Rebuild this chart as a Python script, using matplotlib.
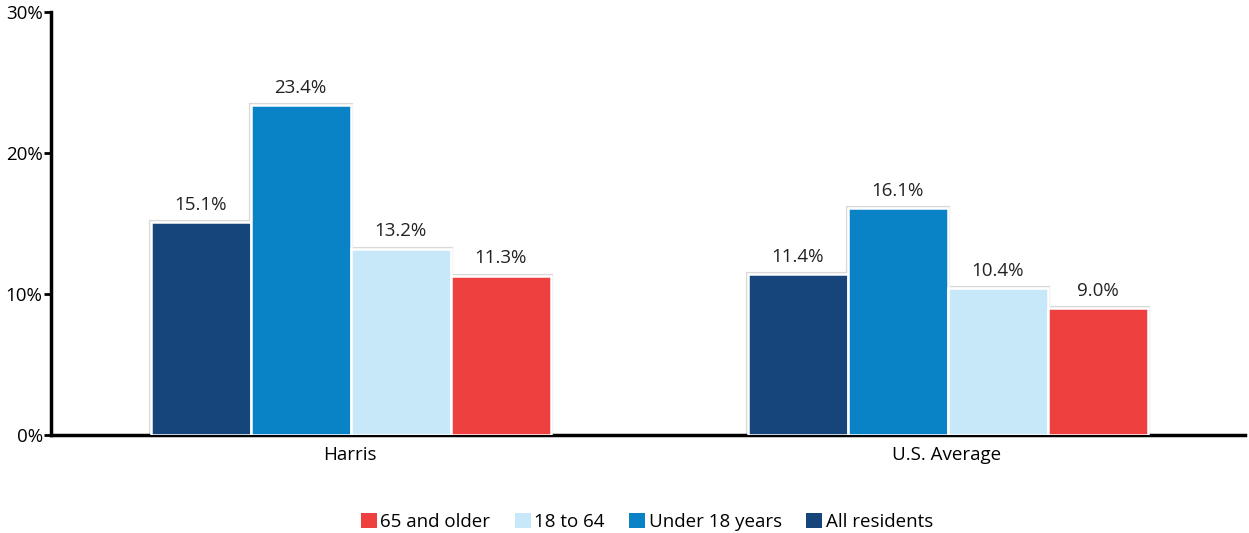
import numpy as np
import matplotlib.pyplot as plt
from matplotlib.patches import Patch

plt.rcParams['font.family'] = ['Open Sans', 'DejaVu Sans']

places = ['Harris', 'U.S. Average']
series = ['All residents', 'Under 18 years', '18 to 64', '65 and older']
all_residents = [15.1, 11.4]
under_18 = [23.4, 16.1]
age_18_64 = [13.2, 10.4]
age_65_up = [11.3, 9.0]
colors = ['#15457b', '#0a82c6', '#c7e8f8', '#ef4040']

values = [all_residents, under_18, age_18_64, age_65_up]

fig = plt.figure(figsize=(12.49, 5.33), dpi=100)
ax = fig.add_axes([0.0408, 0.1839, 0.956, 0.7936])

x = np.arange(len(places)) + 0.5
w = 0.1675
for i, (vals, c) in enumerate(zip(values, colors)):
    pos = x + (i - 1.5) * w + 0.002
    ax.bar(pos, vals, w, color=c, edgecolor='#d9d9d9', linewidth=3.0, zorder=2)
    ax.bar(pos, vals, w, color=c, edgecolor='white', linewidth=1.8, zorder=3)
    for p, v in zip(pos, vals):
        ax.text(p, v + 0.6, f'{v:.1f}%', ha='center', va='bottom',
                fontsize=13.5, color='#222222', zorder=4)

ax.set_xlim(0, 2)
ax.set_ylim(0, 30)
ax.set_yticks([0, 10, 20, 30])
ax.set_yticklabels(['0%', '10%', '20%', '30%'], fontsize=13.5)
ax.set_xticks(x)
ax.set_xticklabels(places, fontsize=13.5)
ax.tick_params(axis='x', length=0, pad=8)
ax.tick_params(axis='y', length=5, width=2, pad=1)
for s in ['top', 'right']:
    ax.spines[s].set_visible(False)
ax.spines['left'].set_linewidth(2.5)
ax.spines['bottom'].set_linewidth(2.5)

handles = [Patch(facecolor=c, label=l) for l, c in zip(series, colors)][::-1]
fig.legend(handles=handles, loc='lower center', bbox_to_anchor=(0.518, -0.028),
           ncol=4, frameon=False, fontsize=13.5, handlelength=0.85,
           handleheight=0.85, handletextpad=0.2, columnspacing=1.3)

fig.savefig('out.png', dpi=100)
